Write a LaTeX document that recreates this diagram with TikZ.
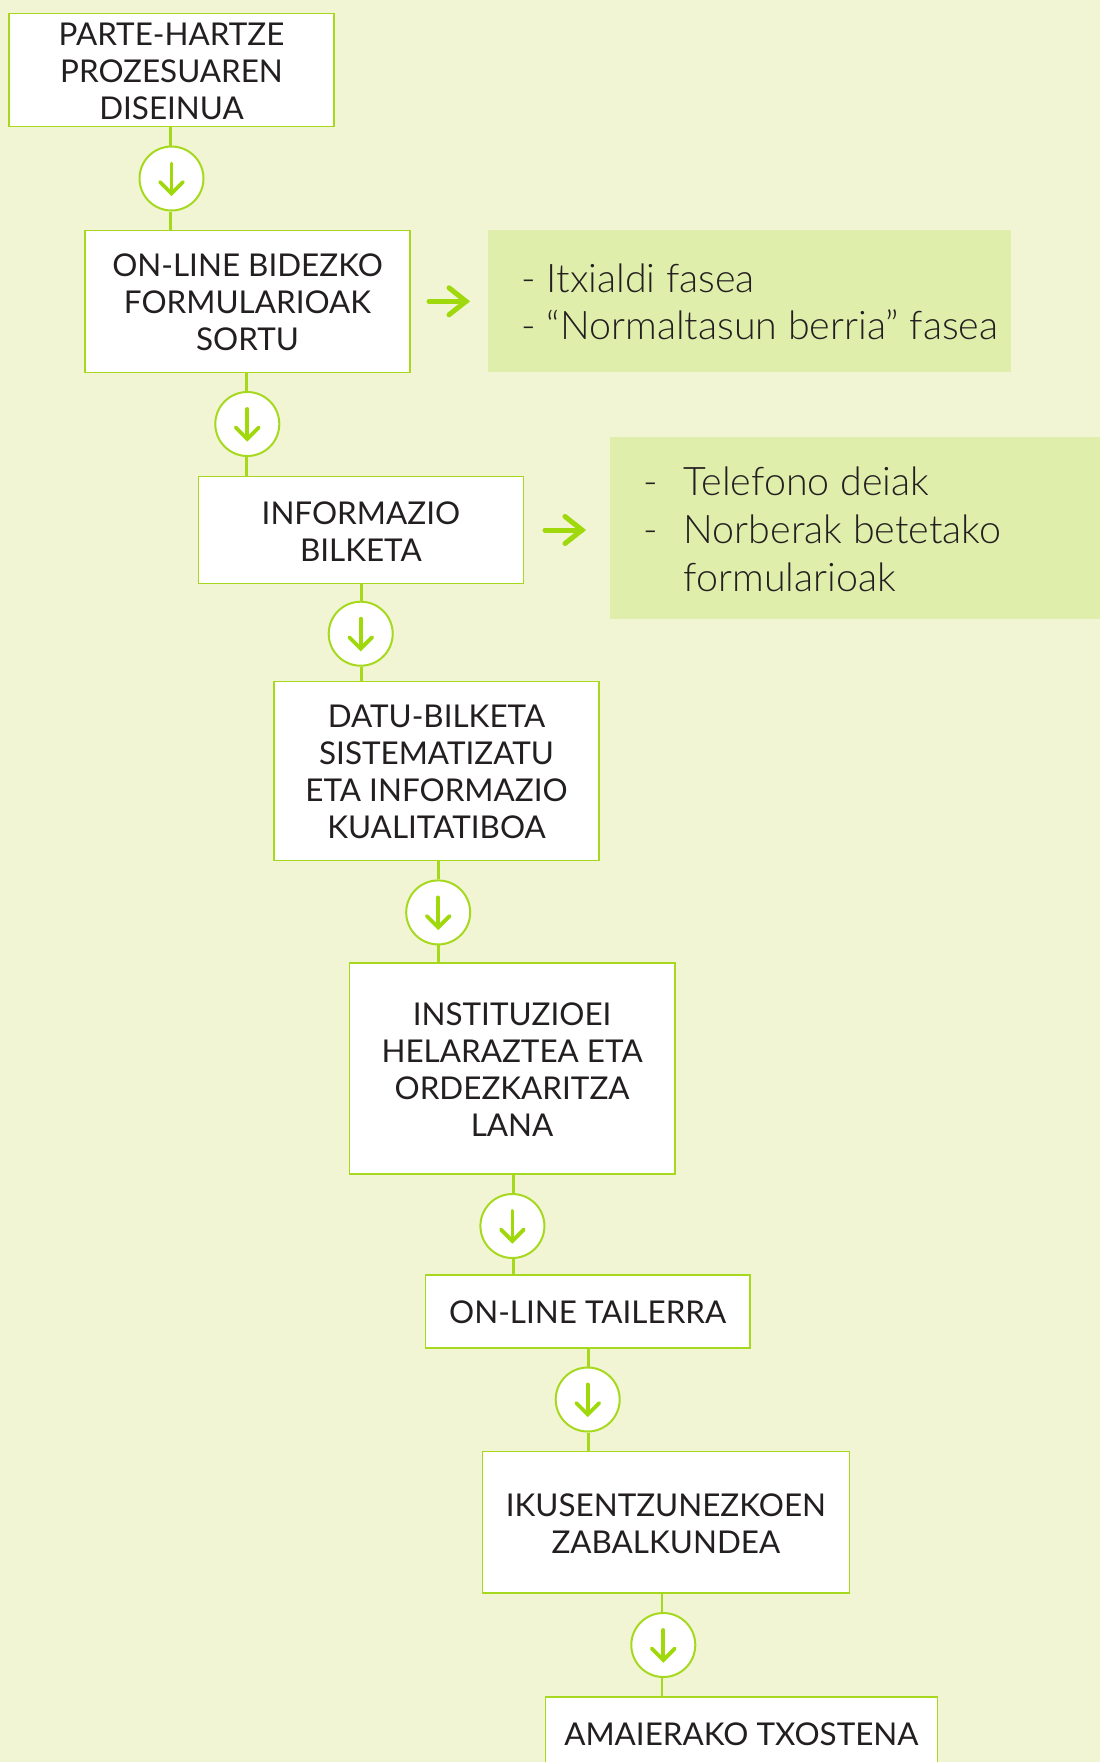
\documentclass[tikz,border=0pt]{standalone}
\usepackage{fontspec}
\setmainfont{Lato}
\newfontfamily\lightfont{Lato Light}
\definecolor{pagebg}{HTML}{F1F5D4}
\definecolor{panelbg}{HTML}{E0EEAC}
\definecolor{linegreen}{HTML}{A6D91E}
\definecolor{arrowgreen}{HTML}{9FD80B}
\definecolor{inktext}{HTML}{231F20}
\tikzset{
  x=1pt,y=-1pt,
  stepbox/.style={draw=linegreen,line width=1.6pt,fill=white,rectangle,inner sep=0pt,align=center,
    text=inktext,font=\fontsize{31.4}{37}\selectfont},
  panel/.style={fill=panelbg,rectangle,inner sep=0pt},
  paneltext/.style={anchor=base west,inner sep=0pt,text=inktext,font=\lightfont\fontsize{39.4}{39.4}\selectfont},
  roundel/.style={circle,draw=linegreen,line width=2pt,fill=white,minimum size=64pt,inner sep=0pt},
  joiner/.style={draw=linegreen,line width=2.8pt},
  downarrow/.style={draw=arrowgreen,line width=3.8pt,line cap=round,line join=miter},
  sidearrow/.style={draw=arrowgreen,line width=5pt,line cap=round,line join=miter},
}
\newcommand{\stepnode}[6]{\node[stepbox,minimum width=#4-#3,minimum height=#6-#5] (#1) at ({(#3+#4)/2},{(#5+#6)/2}) {\rule{0pt}{25pt}#2};}
\newcommand{\roundelat}[3]{\node[roundel] (#1) at (#2,#3) {};
  \draw[downarrow] ([yshift=15pt]#1.center) -- ([yshift=-14pt]#1.center);
  \draw[downarrow] ([xshift=-11.5pt,yshift=-3.5pt]#1.center) -- ([yshift=-15pt]#1.center) -- ([xshift=11.5pt,yshift=-3.5pt]#1.center);}
\newcommand{\joinpair}[4]{%
  \draw[joiner] ([xshift=#4pt]#1.south -| #2.north) -- ([xshift=#4pt]#2.north);
  \draw[joiner] ([xshift=#4pt]#2.south) -- ([xshift=#4pt]#2.south |- #3.north);}
\begin{document}
\begin{tikzpicture}
\useasboundingbox[fill=pagebg] (0,0) rectangle (1100,1762);
% panels
\node[panel,minimum width=522.7pt,minimum height=141.7pt] (p1) at (749.35,300.85) {};
\node[panel,minimum width=490.2pt,minimum height=181.4pt] (p2) at (854.9,528) {};
% boxes
\stepnode{b1}{PARTE-HARTZE\\PROZESUAREN\\DISEINUA}{9}{334}{13.5}{126.5}
\stepnode{b2}{ON-LINE BIDEZKO\\FORMULARIOAK\\SORTU}{85}{410}{230.5}{372.3}
\stepnode{b3}{INFORMAZIO\\BILKETA}{198.3}{523.5}{476.5}{583.5}
\stepnode{b4}{DATU-BILKETA\\SISTEMATIZATU\\ETA INFORMAZIO\\KUALITATIBOA}{274}{599}{681.5}{860.5}
\stepnode{b5}{INSTITUZIOEI\\HELARAZTEA ETA\\ORDEZKARITZA\\LANA}{349.5}{674.7}{963}{1174}
\stepnode{b6}{ON-LINE TAILERRA}{425.3}{750}{1274.7}{1348}
\stepnode{b7}{IKUSENTZUNEZKOEN\\ZABALKUNDEA}{482.5}{849.3}{1451.3}{1593}
\stepnode{b8}{AMAIERAKO TXOSTENA}{545.5}{937.3}{1696.7}{1769}
% roundels
\roundelat{c1}{171.5}{178.5}
\roundelat{c2}{247.3}{424}
\roundelat{c3}{360.7}{633.7}
\roundelat{c4}{438.2}{912.4}
\roundelat{c5}{512.4}{1226}
\roundelat{c6}{587.7}{1399.5}
\roundelat{c7}{663.3}{1645}
% connectors
\joinpair{b1}{c1}{b2}{-1.2}
\joinpair{b2}{c2}{b3}{-1.2}
\joinpair{b3}{c3}{b4}{1.1}
\joinpair{b4}{c4}{b5}{0}
\joinpair{b5}{c5}{b6}{1.1}
\joinpair{b6}{c6}{b7}{1.1}
\joinpair{b7}{c7}{b8}{-1.4}
% side arrows
\coordinate (a1s) at (429,301.3);
\coordinate (a1e) at (466,301.3);
\draw[sidearrow] (a1s) -- (a1e);
\draw[sidearrow] ([xshift=-17pt,yshift=-13.5pt]a1e) -- (a1e) -- ([xshift=-17pt,yshift=13.5pt]a1e);
\coordinate (a2s) at (545,530);
\coordinate (a2e) at (582,530);
\draw[sidearrow] (a2s) -- (a2e);
\draw[sidearrow] ([xshift=-17pt,yshift=-13.5pt]a2e) -- (a2e) -- ([xshift=-17pt,yshift=13.5pt]a2e);
% panel text
\node[paneltext] (t1) at (521.4,292) {- Itxialdi fasea};
\node[paneltext] (t2) at (521.4,339.5) {- “Normaltasun berria” fasea};
\node[paneltext] (t3a) at (643,495) {-};
\node[paneltext] (t3) at (683.5,495) {Telefono deiak};
\node[paneltext] (t4a) at (643,543.5) {-};
\node[paneltext] (t4) at (683.5,543.5) {Norberak betetako};
\node[paneltext] (t5) at (683.5,591) {formularioak};
\end{tikzpicture}
\end{document}
